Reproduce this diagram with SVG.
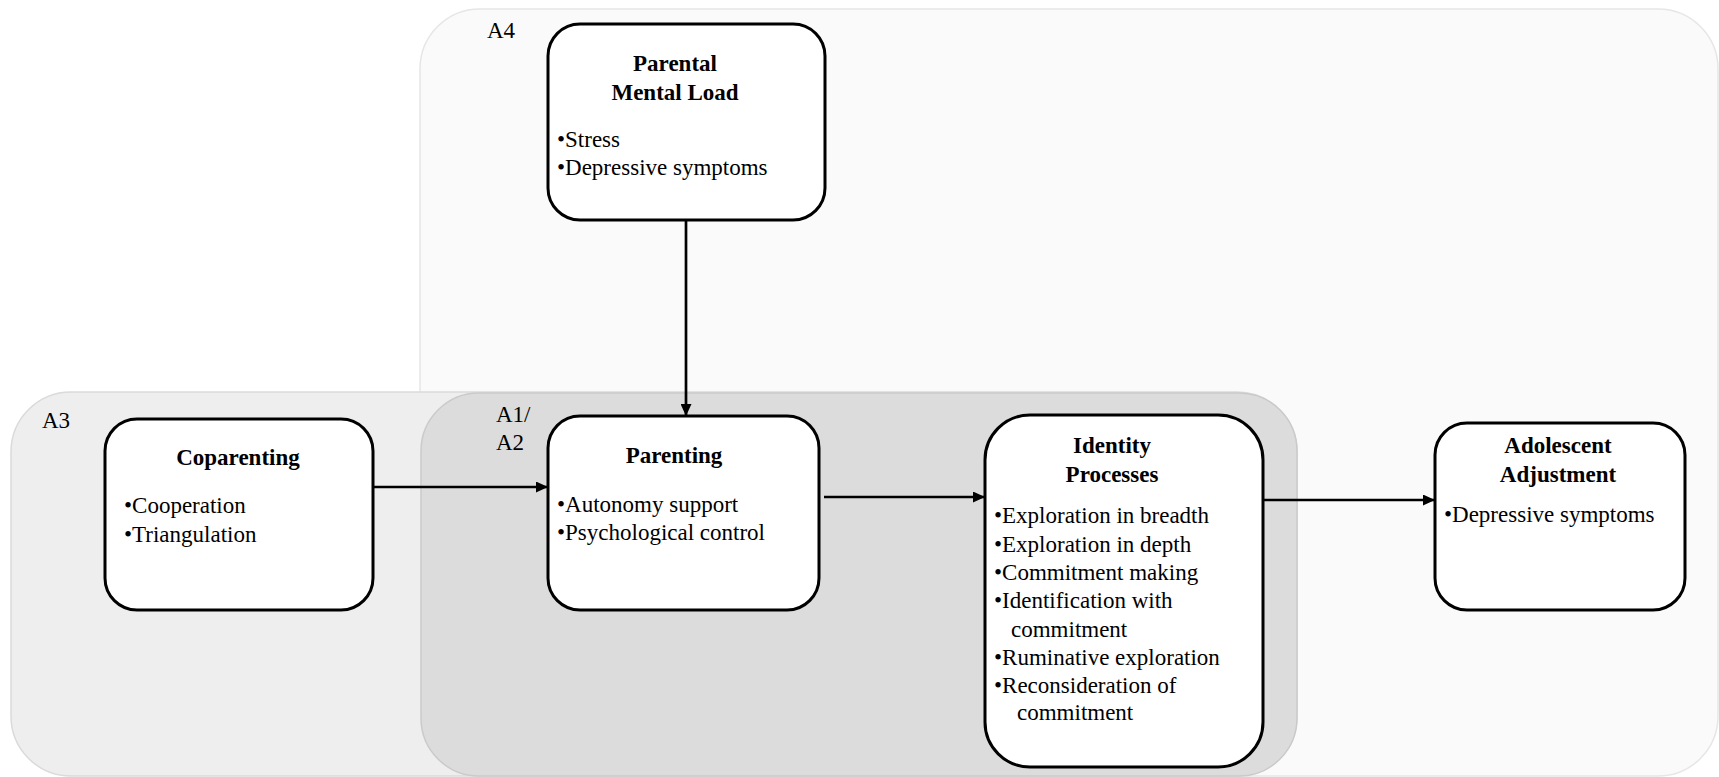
<svg xmlns="http://www.w3.org/2000/svg" width="1719" height="777" viewBox="0 0 1719 777">
<style>
text{font-family:"Liberation Serif","Times New Roman",serif;font-size:23px;fill:#000}
.t{font-weight:bold;text-anchor:middle}
.node{fill:#fff;stroke:#000;stroke-width:3}
.conn{stroke:#000;stroke-width:2.7;fill:none}
</style>
<defs>
<marker id="arr" markerUnits="userSpaceOnUse" markerWidth="12" markerHeight="11" refX="12" refY="5.5" orient="auto">
<path d="M0,0 L12,5.5 L0,11 z" fill="#000"/>
</marker>
</defs>
<rect width="1719" height="777" fill="#fff"/>
<g id="regions">
<g id="A4"><rect x="420" y="9" width="1298" height="767" rx="60" fill="#fafafa" stroke="#e6e6e6" stroke-width="1.5"/>
<text x="487" y="38">A4</text></g>
<g id="A3"><rect x="11" y="392" width="1286" height="384" rx="60" fill="#eeeeee" stroke="#dadada" stroke-width="1.5"/>
<text x="42" y="428">A3</text></g>
<g id="A1A2"><rect x="421" y="393" width="876" height="383" rx="58" fill="#dcdcdc" stroke="#cacaca" stroke-width="1.5"/>
<text x="496" y="422">A1/</text><text x="496" y="450">A2</text></g>
</g>
<g id="connectors">
<line class="conn" x1="686" y1="221" x2="686" y2="416" marker-end="url(#arr)"/>
<line class="conn" x1="373" y1="487" x2="548" y2="487" marker-end="url(#arr)"/>
<line class="conn" x1="824" y1="497" x2="985" y2="497" marker-end="url(#arr)"/>
<line class="conn" x1="1263" y1="500" x2="1435" y2="500" marker-end="url(#arr)"/>
</g>
<g id="parental-mental-load">
<rect class="node" x="548" y="24" width="277" height="196" rx="32"/>
<text class="t" x="675" y="71">Parental</text>
<text class="t" x="675" y="100">Mental Load</text>
<text x="557" y="147">•Stress</text>
<text x="557" y="175">•Depressive symptoms</text>
</g>
<g id="coparenting">
<rect class="node" x="105" y="419" width="268" height="191" rx="32"/>
<text class="t" x="238" y="465">Coparenting</text>
<text x="124" y="513">•Cooperation</text>
<text x="124" y="542">•Triangulation</text>
</g>
<g id="parenting">
<rect class="node" x="548" y="416" width="271" height="194" rx="32"/>
<text class="t" x="674" y="463">Parenting</text>
<text x="557" y="512">•Autonomy support</text>
<text x="557" y="540">•Psychological control</text>
</g>
<g id="identity-processes">
<rect class="node" x="985" y="415" width="278" height="352" rx="45"/>
<text class="t" x="1112" y="453">Identity</text>
<text class="t" x="1112" y="482">Processes</text>
<text x="994" y="523">•Exploration in breadth</text>
<text x="994" y="552">•Exploration in depth</text>
<text x="994" y="580">•Commitment making</text>
<text x="994" y="608">•Identification with</text>
<text x="1011" y="637">commitment</text>
<text x="994" y="665">•Ruminative exploration</text>
<text x="994" y="693">•Reconsideration of</text>
<text x="1017" y="720">commitment</text>
</g>
<g id="adolescent-adjustment">
<rect class="node" x="1435" y="423" width="250" height="187" rx="32"/>
<text class="t" x="1558" y="453">Adolescent</text>
<text class="t" x="1558" y="482">Adjustment</text>
<text x="1444" y="522">•Depressive symptoms</text>
</g>
</svg>
